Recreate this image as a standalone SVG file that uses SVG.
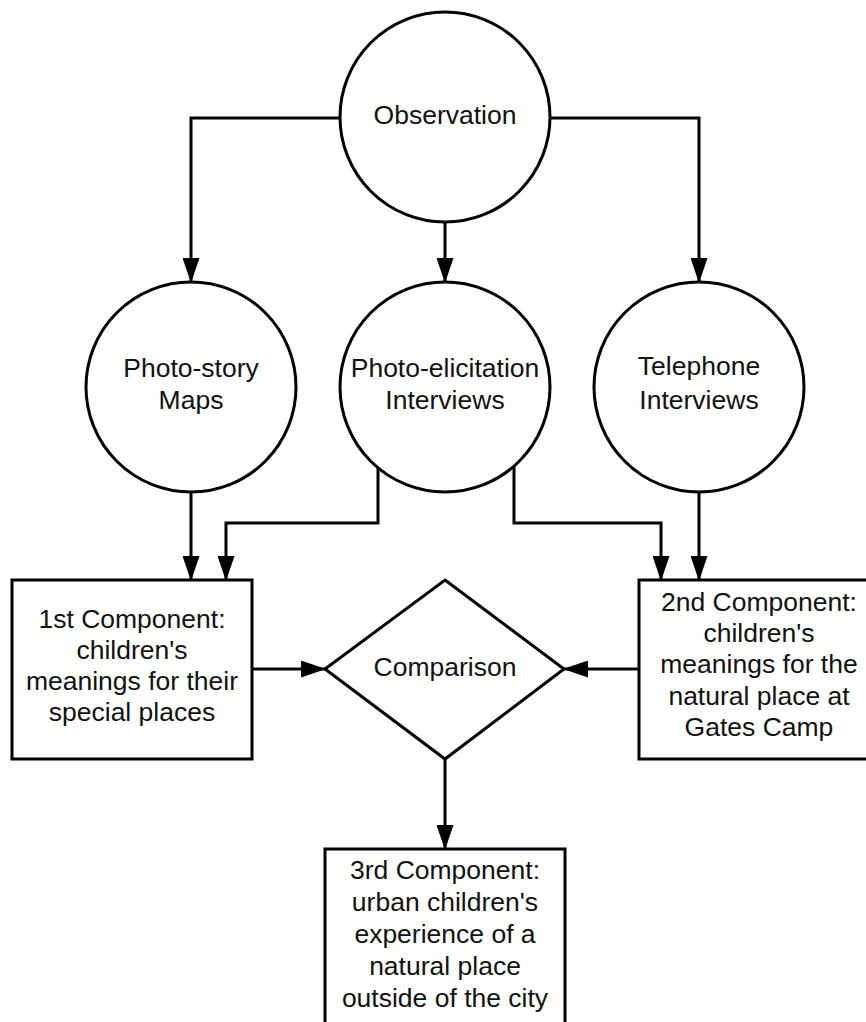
<svg xmlns="http://www.w3.org/2000/svg" width="866" height="1022" viewBox="0 0 866 1022">
  <style>
    .shape { fill: #ffffff; stroke: #000000; stroke-width: 3; }
    .conn { fill: none; stroke: #000000; stroke-width: 3; }
    .label { font-family: "Liberation Sans", Arial, sans-serif; font-size: 26.5px; fill: #111111; text-anchor: middle; }
  </style>
  <defs>
    <marker id="arrow" markerUnits="userSpaceOnUse" markerWidth="25" markerHeight="17" refX="24" refY="8.5" orient="auto">
      <path d="M0,0 L25,8.5 L0,17 Z" fill="#000000"/>
    </marker>
  </defs>
  <rect width="866" height="1022" fill="#ffffff"/>

  <g id="connectors">
    <path class="conn" d="M340,118 H191 V282" marker-end="url(#arrow)"/>
    <path class="conn" d="M445,222 V282" marker-end="url(#arrow)"/>
    <path class="conn" d="M550,118 H699 V282" marker-end="url(#arrow)"/>
    <path class="conn" d="M191,492 V580" marker-end="url(#arrow)"/>
    <path class="conn" d="M378,467 V523 H226 V580" marker-end="url(#arrow)"/>
    <path class="conn" d="M514,466 V523 H661 V580" marker-end="url(#arrow)"/>
    <path class="conn" d="M699,492 V580" marker-end="url(#arrow)"/>
    <path class="conn" d="M252,669 H325" marker-end="url(#arrow)"/>
    <path class="conn" d="M639,669 H564" marker-end="url(#arrow)"/>
    <path class="conn" d="M445,759 V849" marker-end="url(#arrow)"/>
  </g>

  <g id="observation">
    <circle class="shape" cx="445" cy="117" r="105"/>
    <text class="label" x="445" y="124">Observation</text>
  </g>

  <g id="photo-story">
    <circle class="shape" cx="191" cy="387" r="105"/>
    <text class="label" x="191" y="377">Photo-story</text>
    <text class="label" x="191" y="409">Maps</text>
  </g>

  <g id="photo-elicitation">
    <circle class="shape" cx="445" cy="387" r="105"/>
    <text class="label" x="445" y="377">Photo-elicitation</text>
    <text class="label" x="445" y="409">Interviews</text>
  </g>

  <g id="telephone">
    <circle class="shape" cx="699" cy="387" r="105"/>
    <text class="label" x="699" y="375">Telephone</text>
    <text class="label" x="699" y="409">Interviews</text>
  </g>

  <g id="component1">
    <rect class="shape" x="12" y="580" width="240" height="179"/>
    <text class="label" x="132" y="628">1st Component:</text>
    <text class="label" x="132" y="659">children's</text>
    <text class="label" x="132" y="690">meanings for their</text>
    <text class="label" x="132" y="721">special places</text>
  </g>

  <g id="component2">
    <rect class="shape" x="639" y="580" width="240" height="179"/>
    <text class="label" x="759" y="611">2nd Component:</text>
    <text class="label" x="759" y="642">children's</text>
    <text class="label" x="759" y="673">meanings for the</text>
    <text class="label" x="759" y="705">natural place at</text>
    <text class="label" x="759" y="736">Gates Camp</text>
  </g>

  <g id="comparison">
    <polygon class="shape" points="445,580 564,669 445,759 325,669"/>
    <text class="label" x="445" y="676">Comparison</text>
  </g>

  <g id="component3">
    <rect class="shape" x="325" y="849" width="240" height="200"/>
    <text class="label" x="445" y="879">3rd Component:</text>
    <text class="label" x="445" y="911">urban children's</text>
    <text class="label" x="445" y="943">experience of a</text>
    <text class="label" x="445" y="975">natural place</text>
    <text class="label" x="445" y="1007">outside of the city</text>
  </g>
</svg>
